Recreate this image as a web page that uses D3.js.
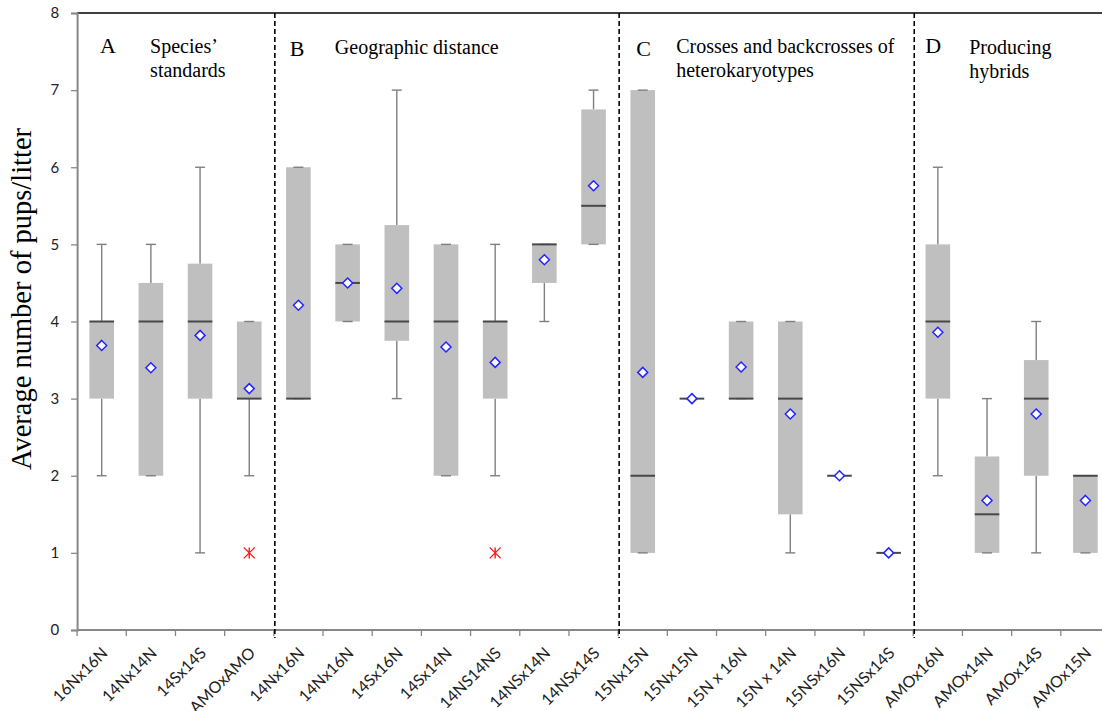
<!DOCTYPE html>
<html>
<head>
<meta charset="utf-8">
<script src="https://cdn.jsdelivr.net/npm/d3@7"></script>
<style>
  html, body { margin: 0; padding: 0; background: #fff; }
  svg { display: block; }
</style>
</head>
<body>
<div id="chart"></div>
<script>
// ---- data ----
const categories = ["16Nx16N","14Nx14N","14Sx14S","AMOxAMO",
  "14Nx16N","14Nx16N","14Sx16N","14Sx14N","14NS14NS","14NSx14N","14NSx14S",
  "15Nx15N","15Nx15N","15N x 16N","15N x 14N","15NSx16N","15NSx14S",
  "AMOx16N","AMOx14N","AMOx14S","AMOx15N"];
const whiskerMin = [2,2,1,2, 3,4,3,2,2,4,5, 1,3,3,1,2,1, 2,1,1,1];
const q1         = [3,2,3,3, 3,4,3.75,2,3,4.5,5, 1,3,3,1.5,2,1, 3,1,2,1];
const median     = [4,4,4,3, 3,4.5,4,4,4,5,5.5, 2,3,3,3,2,1, 4,1.5,3,2];
const q3         = [4,4.5,4.75,4, 6,5,5.25,5,4,5,6.75, 7,3,4,4,2,1, 5,2.25,3.5,2];
const whiskerMax = [5,5,6,4, 6,5,7,5,5,5,7, 7,3,4,4,2,1, 6,3,4,2];
const means      = [3.69,3.40,3.82,3.13, 4.21,4.50,4.43,3.67,3.47,4.80,5.76, 3.34,3.00,3.41,2.80,2.00,1.00, 3.86,1.68,2.80,1.68];
const outliers   = [{i:3, v:1}, {i:8, v:1}];
const yTicks     = [0,1,2,3,4,5,6,7,8];
const sectionBreaks = [4, 11, 17];
const sectionLetters = ["A","B","C","D"];
const sectionTitles = [["Species\u2019","standards"],["Geographic distance"],["Crosses and backcrosses of","heterokaryotypes"],["Producing","hybrids"]];
const sectionStart = [0, 4, 11, 17];

// ---- layout ----
const W = 1102, H = 711;
const mLeft = 77.1, mRight = 1110, mTop = 13, mBottom = 630;

const svg = d3.select("#chart").append("svg").attr("width", W).attr("height", H);

const x = d3.scaleBand().domain(d3.range(categories.length)).range([mLeft, mRight]).padding(0);
const y = d3.scaleLinear().domain([0, 8]).range([mBottom, mTop]);
const bw = x.bandwidth();
const boxW = bw * 0.5;
const capW = 10;

// top line
svg.append("line").attr("x1", mLeft).attr("x2", W).attr("y1", y(8)).attr("y2", y(8))
  .attr("stroke", "#000").attr("stroke-width", 1.3);

// y axis
const yAxis = d3.axisLeft(y).tickValues(yTicks).tickSize(6).tickPadding(12).tickFormat(d3.format("d"));
const gy = svg.append("g").attr("transform", `translate(${mLeft},0)`).call(yAxis);
gy.select(".domain").attr("stroke", "#878787").attr("stroke-width", 2);
gy.selectAll(".tick line").attr("stroke", "#878787").attr("stroke-width", 1.3);
gy.selectAll(".tick text").attr("font-family", "Lato, 'Open Sans', sans-serif").attr("font-size", 15).attr("fill", "#222");

// x axis (ticks at band boundaries)
const boundaries = d3.range(categories.length + 1).map(i => mLeft + i * bw);
svg.append("line").attr("x1", mLeft).attr("x2", W).attr("y1", mBottom).attr("y2", mBottom)
  .attr("stroke", "#878787").attr("stroke-width", 2);
svg.append("g").selectAll("line").data(boundaries).join("line")
  .attr("x1", d => d).attr("x2", d => d).attr("y1", mBottom).attr("y2", mBottom + 6)
  .attr("stroke", "#878787").attr("stroke-width", 1.3);

svg.append("g").selectAll("text").data(categories).join("text")
  .attr("transform", (d, i) => `translate(${x(i) + bw / 2 + 7},${mBottom + 24}) rotate(-45)`)
  .attr("text-anchor", "end")
  .attr("font-family", "Lato, 'Open Sans', sans-serif")
  .attr("font-size", 16)
  .attr("fill", "#222")
  .text(d => d);

// y title
svg.append("text")
  .attr("transform", `translate(31,${299}) rotate(-90)`)
  .attr("text-anchor", "middle")
  .attr("font-family", "'Liberation Serif', 'Times New Roman', serif")
  .attr("font-size", 28.5)
  .attr("fill", "#000")
  .text("Average number of pups/litter");

// section separators
svg.append("g").selectAll("line").data(sectionBreaks).join("line")
  .attr("x1", d => x(d) + 1).attr("x2", d => x(d) + 1)
  .attr("y1", mTop).attr("y2", mBottom + 8)
  .attr("stroke", "#000").attr("stroke-width", 1.6).attr("stroke-dasharray", "5,3");

// section labels
const serif = "'Liberation Serif', 'Times New Roman', serif";
const letterOffsets = [[23, 53], [16, 56], [18, 56], [12, 53]];
const titleOffsets = [[73, 53], [61, 54], [58, 53], [56, 54]];
const secG = svg.append("g");
sectionLetters.forEach((L, k) => {
  const x0 = x(sectionStart[k]);
  secG.append("text").attr("x", x0 + letterOffsets[k][0]).attr("y", letterOffsets[k][1])
    .attr("font-family", serif).attr("font-size", 22).attr("fill", "#000").text(L);
  sectionTitles[k].forEach((line, j) => {
    secG.append("text").attr("x", x0 + titleOffsets[k][0]).attr("y", titleOffsets[k][1] + j * 24)
      .attr("font-family", serif).attr("font-size", 20).attr("fill", "#000").text(line);
  });
});

// boxes
const idx = d3.range(categories.length);
const cx = i => x(i) + bw / 2;
const g = svg.append("g");

// whiskers
g.selectAll(".wUp").data(idx).join("line")
  .attr("x1", cx).attr("x2", cx).attr("y1", i => y(q3[i])).attr("y2", i => y(whiskerMax[i]))
  .attr("stroke", "#7f7f7f").attr("stroke-width", 1.4);
g.selectAll(".wDn").data(idx).join("line")
  .attr("x1", cx).attr("x2", cx).attr("y1", i => y(q1[i])).attr("y2", i => y(whiskerMin[i]))
  .attr("stroke", "#7f7f7f").attr("stroke-width", 1.4);

// box
g.selectAll(".box").data(idx).join("rect")
  .attr("x", i => cx(i) - boxW / 2).attr("width", boxW)
  .attr("y", i => y(q3[i])).attr("height", i => y(q1[i]) - y(q3[i]))
  .attr("fill", "#bfbfbf");

// caps
g.selectAll(".capT").data(idx).join("line")
  .attr("x1", i => cx(i) - capW / 2).attr("x2", i => cx(i) + capW / 2)
  .attr("y1", i => y(whiskerMax[i])).attr("y2", i => y(whiskerMax[i]))
  .attr("stroke", "#7f7f7f").attr("stroke-width", 1.4);
g.selectAll(".capB").data(idx).join("line")
  .attr("x1", i => cx(i) - capW / 2).attr("x2", i => cx(i) + capW / 2)
  .attr("y1", i => y(whiskerMin[i])).attr("y2", i => y(whiskerMin[i]))
  .attr("stroke", "#7f7f7f").attr("stroke-width", 1.4);

// median
g.selectAll(".med").data(idx).join("line")
  .attr("x1", i => cx(i) - boxW / 2).attr("x2", i => cx(i) + boxW / 2)
  .attr("y1", i => y(median[i])).attr("y2", i => y(median[i]))
  .attr("stroke", "#474747").attr("stroke-width", 2);

// mean diamonds
const dsz = 5;
g.selectAll(".mean").data(idx).join("path")
  .attr("d", i => {
    const px = cx(i), py = y(means[i]);
    return `M${px},${py - dsz}L${px + dsz},${py}L${px},${py + dsz}L${px - dsz},${py}Z`;
  })
  .attr("fill", "#fff").attr("stroke", "#2424ff").attr("stroke-width", 1.5);

// outliers (asterisks)
const os = 5.5;
outliers.forEach(o => {
  const px = cx(o.i), py = y(o.v);
  const p = `M${px},${py - os}L${px},${py + os}M${px - os},${py - os}L${px + os},${py + os}M${px - os},${py + os}L${px + os},${py - os}`;
  g.append("path").attr("d", p).attr("stroke", "#ff1a1a").attr("stroke-width", 1.4).attr("fill", "none");
});
</script>
</body>
</html>
